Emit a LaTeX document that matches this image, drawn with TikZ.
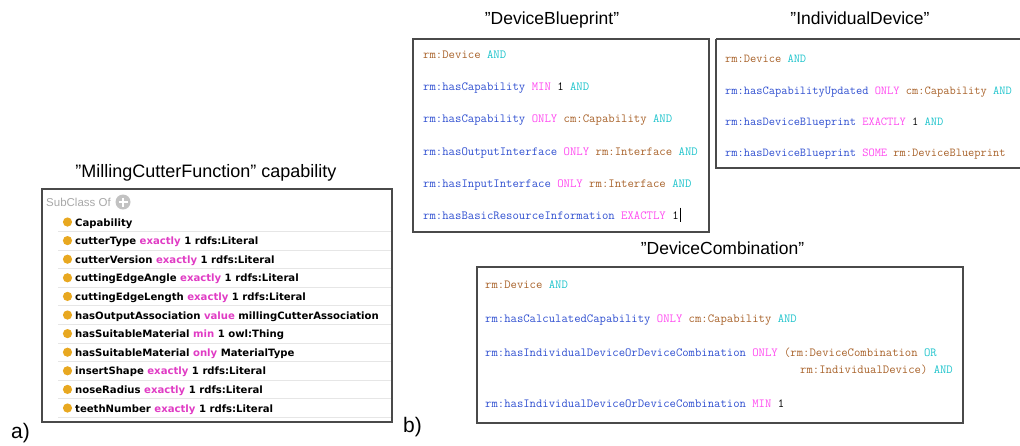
\documentclass[tikz,border=0pt]{standalone}
\usepackage{fontspec}
\setmainfont{Liberation Sans}
\newfontfamily\protfont{DejaVu Sans}
\definecolor{cbrown}{HTML}{A8622A}
\definecolor{ccyan}{HTML}{20C4CC}
\definecolor{cblue}{HTML}{2F4FD0}
\definecolor{cpink}{HTML}{FF4CF0}
\definecolor{pkey}{HTML}{E03CC4}
\definecolor{pbullet}{HTML}{E8A820}
\definecolor{psep}{HTML}{E6E6E6}
\definecolor{pgrey}{HTML}{A8A8A8}
\definecolor{boxline}{HTML}{4A4A4A}
\newcommand\Cblue[1]{\textcolor{cblue}{#1}}
\newcommand\Cbrown[1]{\textcolor{cbrown}{#1}}
\newcommand\Ccyan[1]{\textcolor{ccyan}{#1}}
\newcommand\Cpink[1]{\textcolor{cpink}{#1}}
\newcommand\Pkey[1]{\textcolor{pkey}{#1}}
\begin{document}
\begin{tikzpicture}[x=1pt,y=-1pt,
  title/.style={font=\fontsize{17.5}{20}\selectfont, anchor=base, inner sep=0pt},
  label/.style={font=\fontsize{21}{24}\selectfont, anchor=base west, inner sep=0pt},
  codeA/.style={font=\ttfamily\fontsize{12.4}{14}\selectfont, anchor=base west, inner sep=0pt},
  codeB/.style={font=\ttfamily\fontsize{12.1}{14}\selectfont, anchor=base west, inner sep=0pt},
  codeC/.style={font=\ttfamily\fontsize{12.35}{14}\selectfont, anchor=base west, inner sep=0pt},
  prow/.style={font=\protfont\bfseries\fontsize{10.1}{12}\selectfont, anchor=base west, inner sep=0pt},
  pbul/.style={circle, fill=pbullet, inner sep=0pt, minimum size=9.2pt},
  sep/.style={draw=psep, line width=0.8pt},
  cbox/.style={draw=boxline, line width=1.3pt},
  pbox/.style={draw=boxline, line width=1.5pt}]
\useasboundingbox (0,0) rectangle (1020,445);

% ---------- a) Protege panel ----------
\node[title, font=\fontsize{18}{20}\selectfont] (tA) at (206,177) {”MillingCutterFunction” capability};
\draw[pbox] (42,189) rectangle (392,422);
\node[anchor=base west, inner sep=0pt, text=pgrey, font=\fontsize{11.5}{13}\selectfont] (sub) at (46,206) {SubClass Of};
\node[circle, fill=pgrey!70, inner sep=0pt, minimum size=15pt] (plus) at (123,202) {};
\draw[white, line width=2pt] (plus.center) ++(-4.5,0) -- ++(9,0);
\draw[white, line width=2pt] (plus.center) ++(0,-4.5) -- ++(0,9);

\foreach \i/\txt in {
  0/{Capability},
  1/{cutterType \Pkey{exactly} 1 rdfs:Literal},
  2/{cutterVersion \Pkey{exactly} 1 rdfs:Literal},
  3/{cuttingEdgeAngle \Pkey{exactly} 1 rdfs:Literal},
  4/{cuttingEdgeLength \Pkey{exactly} 1 rdfs:Literal},
  5/{hasOutputAssociation \Pkey{value} millingCutterAssociation},
  6/{hasSuitableMaterial \Pkey{min} 1 owl:Thing},
  7/{hasSuitableMaterial \Pkey{only} MaterialType},
  8/{insertShape \Pkey{exactly} 1 rdfs:Literal},
  9/{noseRadius \Pkey{exactly} 1 rdfs:Literal},
  10/{teethNumber \Pkey{exactly} 1 rdfs:Literal}}{
  \pgfmathsetmacro\yy{222+18.6*\i}
  \node[pbul] (b\i) at (67.5,\yy) {};
  \node[prow] (r\i) at (75,\yy+4) {\txt};
  \draw[sep] (58,\yy+9.4) -- (391,\yy+9.4);
}
\node[label] (la) at (11,438) {a)};

% ---------- b) Manchester syntax panels ----------
\node[label] (lb) at (403,432) {b)};

\node[title] (tDB) at (552,24) {”DeviceBlueprint”};
\draw[cbox] (413,39) rectangle (709,232);
\node[codeA] (db1) at (423,58.5) {\Cbrown{rm:Device} \Ccyan{AND}};
\node[codeA] (db2) at (423,90.5) {\Cblue{rm:hasCapability} \Cpink{MIN} 1 \Ccyan{AND}};
\node[codeA] (db3) at (423,122.5) {\Cblue{rm:hasCapability} \Cpink{ONLY} \Cbrown{cm:Capability} \Ccyan{AND}};
\node[codeA] (db4) at (423,155.5) {\Cblue{rm:hasOutputInterface} \Cpink{ONLY} \Cbrown{rm:Interface} \Ccyan{AND}};
\node[codeA] (db5) at (423,187.5) {\Cblue{rm:hasInputInterface} \Cpink{ONLY} \Cbrown{rm:Interface} \Ccyan{AND}};
\node[codeA] (db6) at (423,219.5) {\Cblue{rm:hasBasicResourceInformation} \Cpink{EXACTLY} 1};
\draw[black, line width=0.9pt] ([xshift=1.5pt]db6.base east) ++(0,-12) -- ++(0,14);

\node[title] (tID) at (860,24) {”IndividualDevice”};
\draw[cbox] (716,39) -- (1022,39) (716,39) -- (716,168) -- (1022,168);
\node[codeB] (id1) at (725,62.5) {\Cbrown{rm:Device} \Ccyan{AND}};
\node[codeB] (id2) at (725,94.5) {\Cblue{rm:hasCapabilityUpdated} \Cpink{ONLY} \Cbrown{cm:Capability} \Ccyan{AND}};
\node[codeB] (id3) at (725,125.5) {\Cblue{rm:hasDeviceBlueprint} \Cpink{EXACTLY} 1 \Ccyan{AND}};
\node[codeB] (id4) at (725,156.5) {\Cblue{rm:hasDeviceBlueprint} \Cpink{SOME} \Cbrown{rm:DeviceBlueprint}};

\node[title] (tDC) at (722.5,254) {”DeviceCombination”};
\draw[cbox] (477,267) rectangle (963,423);
\node[codeC] (dc1) at (485,288.5) {\Cbrown{rm:Device} \Ccyan{AND}};
\node[codeC] (dc2) at (485,322.5) {\Cblue{rm:hasCalculatedCapability} \Cpink{ONLY} \Cbrown{cm:Capability} \Ccyan{AND}};
\node[codeC] (dc3) at (485,356.5) {\Cblue{rm:hasIndividualDeviceOrDeviceCombination} \Cpink{ONLY} \Cbrown{(rm:DeviceCombination} \Ccyan{OR}};
\node[codeC] (dc4) at (800,373.5) {\Cbrown{rm:IndividualDevice)} \Ccyan{AND}};
\node[codeC] (dc5) at (485,407.5) {\Cblue{rm:hasIndividualDeviceOrDeviceCombination} \Cpink{MIN} 1};
\end{tikzpicture}
\end{document}
